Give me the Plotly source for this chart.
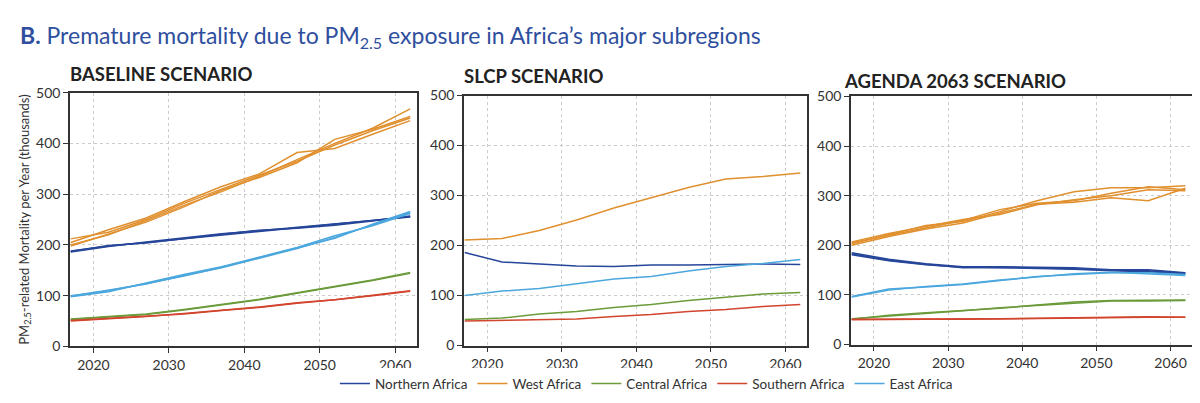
import plotly.graph_objects as go

years = [2017, 2022, 2027, 2032, 2037, 2042, 2047, 2052, 2057, 2062]
regions = ['Northern Africa', 'West Africa', 'Central Africa', 'Southern Africa', 'East Africa']
colors = {'Northern Africa': '#26469a', 'West Africa': '#e0902e', 'Central Africa': '#6b9b3a',
          'Southern Africa': '#d2452e', 'East Africa': '#4ba7dd'}

# baseline scenario (several model runs per region)
base_north = [[188, 198, 205, 212, 220, 227, 234, 240, 248, 256],
              [186, 197, 206, 214, 222, 228, 235, 241, 249, 255],
              [187, 199, 204, 213, 221, 229, 233, 239, 247, 257]]
base_west = [[212, 225, 250, 282, 310, 338, 365, 397, 425, 450],
             [205, 230, 253, 285, 315, 340, 382, 390, 418, 445],
             [200, 220, 248, 278, 305, 335, 368, 400, 430, 468],
             [198, 222, 245, 275, 308, 333, 362, 408, 428, 453]]
base_central = [[53, 58, 63, 72, 82, 92, 105, 117, 130, 144],
                [54, 59, 64, 73, 83, 93, 106, 119, 131, 146]]
base_south = [[50, 54, 59, 65, 71, 78, 86, 92, 100, 109],
              [51, 55, 59, 64, 71, 77, 85, 92, 101, 110]]
base_east = [[99, 111, 123, 140, 155, 174, 193, 215, 240, 264],
             [98, 108, 125, 142, 157, 176, 195, 218, 238, 262],
             [100, 110, 124, 139, 156, 175, 194, 213, 241, 266]]

# SLCP scenario
slcp_north = [[186, 167, 163, 159, 158, 161, 161, 162, 163, 162]]
slcp_west = [[211, 214, 230, 251, 275, 296, 316, 333, 338, 345]]
slcp_central = [[52, 55, 63, 68, 76, 82, 90, 96, 103, 106]]
slcp_south = [[49, 50, 51, 53, 58, 62, 68, 72, 78, 82]]
slcp_east = [[100, 109, 114, 123, 133, 138, 149, 158, 164, 172]]

# Agenda 2063 scenario
ag_north = [[183, 170, 162, 155, 156, 155, 153, 150, 149, 144],
            [185, 172, 163, 157, 157, 156, 155, 151, 151, 145],
            [181, 169, 161, 156, 155, 154, 152, 149, 147, 143]]
ag_west = [[203, 222, 240, 248, 268, 290, 308, 316, 316, 320],
           [205, 220, 236, 250, 272, 285, 290, 305, 318, 312],
           [200, 218, 233, 245, 265, 283, 287, 296, 290, 315],
           [207, 224, 238, 252, 262, 282, 292, 300, 312, 310]]
ag_central = [[51, 59, 64, 68, 73, 80, 86, 89, 90, 90],
              [52, 57, 63, 68, 74, 79, 84, 88, 88, 89]]
ag_south = [[50, 51, 51, 51, 52, 53, 54, 55, 55, 55],
            [51, 51, 52, 51, 52, 53, 54, 55, 56, 55]]
ag_east = [[97, 112, 116, 121, 129, 137, 141, 145, 145, 141],
           [96, 110, 117, 122, 130, 137, 143, 146, 143, 139]]

scenarios = [
    {'Northern Africa': base_north, 'West Africa': base_west, 'Central Africa': base_central,
     'Southern Africa': base_south, 'East Africa': base_east},
    {'Northern Africa': slcp_north, 'West Africa': slcp_west, 'Central Africa': slcp_central,
     'Southern Africa': slcp_south, 'East Africa': slcp_east},
    {'Northern Africa': ag_north, 'West Africa': ag_west, 'Central Africa': ag_central,
     'Southern Africa': ag_south, 'East Africa': ag_east},
]
titles = ['BASELINE SCENARIO', 'SLCP SCENARIO', 'AGENDA 2063 SCENARIO']

W, H = 1200, 403
# pixel boxes of the three panels (left, right, top, bottom)
boxes = [(62, 409, 79, 344), (456, 799, 82, 343), (843, 1184, 83, 342)]
title_pos = [(60, 60), (454, 62), (834, 67)]

fig = go.Figure()
for i, sc in enumerate(scenarios):
    ax = '' if i == 0 else str(i + 1)
    for reg in regions:
        for k, run in enumerate(sc[reg]):
            fig.add_trace(go.Scatter(
                x=years, y=run, mode='lines', name=reg, legendgroup=reg,
                showlegend=(i == 0 and k == 0),
                line=dict(color=colors[reg], width=1.5),
                xaxis='x' + ax, yaxis='y' + ax))

axis_style = dict(showline=True, linecolor='#333', linewidth=1.5, mirror=True,
                  ticks='outside', ticklen=5, tickcolor='#333',
                  showgrid=True, gridcolor='#cccccc', griddash='dot', gridwidth=1,
                  zeroline=False, tickfont=dict(size=14, color='#333'))

layout = dict(width=W, height=H, margin=dict(l=0, r=0, t=0, b=0),
              plot_bgcolor='white', paper_bgcolor='white',
              font=dict(family='Lato, Open Sans, sans-serif', color='#333'))
annotations = []
for i, (l, r, t, b) in enumerate(boxes):
    ax = '' if i == 0 else str(i + 1)
    layout['xaxis' + ax] = dict(axis_style, domain=[l / W, r / W], range=[2016.9, 2062.9],
                                tickvals=[2020, 2030, 2040, 2050, 2060],
                                anchor='y' + ax)
    layout['yaxis' + ax] = dict(axis_style, domain=[(H - b) / H, (H - t) / H], range=[0, 500],
                                tickvals=[0, 100, 200, 300, 400, 500],
                                anchor='x' + ax)
    tx, ty = title_pos[i]
    annotations.append(dict(text='<b>' + titles[i] + '</b>', xref='paper', yref='paper',
                            x=tx / W, y=(H - ty) / H, xanchor='left', yanchor='middle',
                            showarrow=False, font=dict(size=18.5, color='#222', family='Lato')))

layout['yaxis']['title'] = dict(text='PM<sub>2.5</sub>-related Mortality per Year (thousands)',
                                font=dict(size=13, color='#333'), standoff=4)
annotations.append(dict(
    text='<b>B.</b> Premature mortality due to PM<sub>2.5</sub> exposure in Africa’s major subregions',
    xref='paper', yref='paper', x=10 / W, y=(H - 20) / H, xanchor='left', yanchor='middle',
    showarrow=False, font=dict(size=23, color='#2f4f9e', family='Lato')))
layout['annotations'] = annotations
layout['legend'] = dict(orientation='h', x=0.532, xanchor='center', y=(H - 383) / H, yanchor='middle',
                        font=dict(size=13.5, color='#333'), itemwidth=30, tracegroupgap=0)
fig.update_layout(**layout)

fig.write_html("out.html")
